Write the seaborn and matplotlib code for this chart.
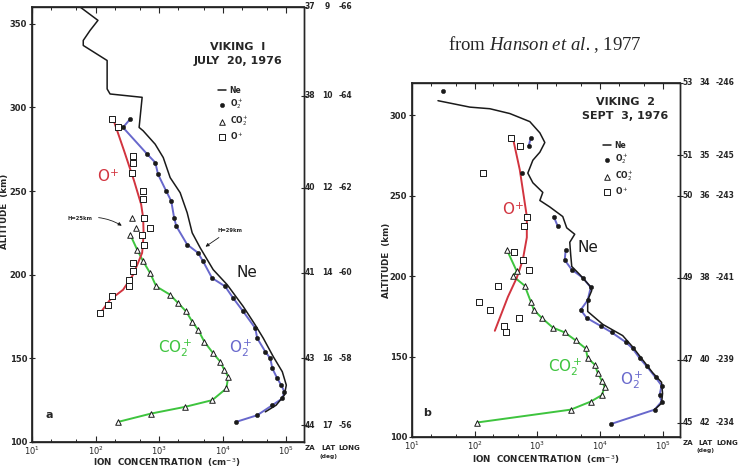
import matplotlib
matplotlib.use("Agg")
import matplotlib.pyplot as plt
import matplotlib.transforms as mtransforms
from matplotlib.ticker import LogLocator, NullFormatter
import pandas as pd
import seaborn as sns

# ---------------- Viking 1, July 20 1976 ----------------
ne1_alt = [360, 352, 346, 340, 337, 328, 311, 308, 306, 288, 286, 278, 270, 258, 249,
           237, 225, 216, 203, 194, 181, 170, 162, 151, 142, 134, 128, 122, 118]
ne1 = [57, 109, 82, 64, 64, 152, 152, 169, 540, 484, 560, 865, 1160, 1490, 2140,
       2760, 3310, 4430, 7080, 11750, 21000, 32400, 43500, 62400, 86500, 100000, 93300, 69200, 46800]

o2_1_alt = [293, 288, 272, 267, 260, 250, 244, 234, 229, 218, 213, 208, 198, 193, 186,
            178, 168, 162, 154, 150, 144, 138, 134, 130, 126, 122, 116, 112]
o2_1 = [350, 270, 650, 870, 960, 1290, 1550, 1720, 1860, 2760, 4100, 4900, 6800, 10900, 14600,
        21000, 32500, 34900, 46700, 56000, 60300, 72100, 83200, 93300, 86500, 60300, 34900, 16200]

co2_1_alt = [224, 215, 208, 201, 193, 188, 183, 178, 172, 167, 160, 153, 148, 143, 139,
             132, 125, 121, 117, 112]
co2_1 = [350, 450, 560, 720, 900, 1490, 1990, 2660, 3310, 4110, 5120, 7080, 9140, 10600, 12200,
         11400, 6840, 2560, 750, 226]
co2_1_extra_alt = [234, 228]
co2_1_extra = [376, 434]

op1_alt = [293, 288, 271, 267, 261, 250, 245, 234, 228, 224, 218, 207, 202, 197, 193, 187, 182, 177]
op1 = [182, 226, 390, 390, 376, 560, 560, 580, 720, 540, 580, 390, 390, 337, 337, 182, 157, 118]
op1_fit_alt = [293, 274, 256, 242, 234, 224, 213, 200, 191, 185, 177]
op1_fit = [189, 281, 404, 521, 560, 570, 540, 390, 271, 169, 118]

za1_alt = [360, 307, 252, 201, 150, 110]
za1 = ["37", "38", "40", "41", "43", "44"]
lat1 = ["9", "10", "12", "14", "16", "17"]
lon1 = ["-66", "-64", "-62", "-60", "-58", "-56"]

# ---------------- Viking 2, Sept 3 1976 ----------------
ne2_alt = [309, 305, 304, 301, 296, 289, 283, 277, 272, 264, 258, 252, 247, 243, 237, 230, 226,
           221, 213, 206, 201, 194, 191, 185, 178, 170, 163, 156, 148, 140, 134, 127, 121, 117]
ne2 = [26, 84, 175, 365, 760, 1100, 1320, 1100, 850, 706, 850, 1225, 1100, 1580, 2550, 2950, 3960,
       3300, 3420, 3550, 4750, 6870, 7400, 6380, 6380, 11100, 23100, 33300, 48000, 69300, 96400,
       100000, 96400, 74600]

o2_2_alt = [286, 281, 237, 231, 216, 210, 204, 199, 193, 185, 179, 174, 169, 165, 159, 155,
            149, 144, 137, 132, 126, 122, 117, 108]
o2_2 = [790, 730, 1830, 2120, 2840, 2740, 3550, 5310, 7130, 6380, 4930, 6150, 10300, 15400,
        25700, 33300, 43000, 55600, 77300, 96400, 89500, 96400, 74600, 14800]
o2_2_seg = [0, 0, 1, 1] + [2] * 20
o2_2_extra_alt = [315, 264]
o2_2_extra = [31, 566]

co2_2_alt = [216, 203, 200, 194, 184, 179, 174, 168, 165, 160, 155, 149, 145, 140, 135,
             131, 126, 122, 117, 109]
co2_2 = [330, 470, 410, 630, 790, 880, 1180, 1770, 2740, 4110, 5930, 6380, 8240, 9200, 10700,
         11900, 10700, 7130, 3420, 109]

op2_alt = [286, 281, 264, 237, 231, 215, 210, 204, 194, 184, 179, 174, 169, 165]
op2 = [378, 526, 135, 681, 610, 422, 587, 733, 235, 117, 175, 507, 292, 315]
op2_fit_alt = [286, 266, 237, 224, 210, 199, 187, 174, 166]
op2_fit = [407, 526, 681, 681, 587, 471, 339, 252, 210]

za2_alt = [320, 275, 250, 199, 148, 109]
za2 = ["53", "51", "50", "49", "47", "45"]
lat2 = ["34", "35", "36", "38", "40", "42"]
lon2 = ["-246", "-245", "-243", "-241", "-239", "-234"]

BLUE = "#6868cc"
RED = "#d2343f"
GREEN = "#3ec43e"

sns.set_theme(style="ticks")
plt.rcParams["font.family"] = ["DejaVu Sans"]
plt.rcParams["mathtext.fontset"] = "custom"
plt.rcParams["mathtext.rm"] = "DejaVu Sans"
plt.rcParams["mathtext.it"] = "Liberation Serif:italic"
plt.rcParams["mathtext.bf"] = "DejaVu Sans:bold"

fig = plt.figure(figsize=(7.39, 4.71), dpi=100)
ax1 = fig.add_axes([0.0433, 0.0616, 0.3681, 0.9236])
ax2 = fig.add_axes([0.5575, 0.0722, 0.3627, 0.7516])


def draw_profiles(ax, ne_x, ne_y, o2_x, o2_y, co2_x, co2_y, op_x, op_y, opf_x, opf_y, o2_units=None):
    ax.set_xscale("log")
    sns.lineplot(x=ne_x, y=ne_y, sort=False, estimator=None, color="k", lw=1.1,
                 label="Ne", ax=ax, zorder=3)
    if o2_units is None:
        sns.lineplot(x=o2_x, y=o2_y, sort=False, estimator=None, color=BLUE, lw=1.4,
                     ax=ax, zorder=2)
    else:
        df = pd.DataFrame({"n": o2_x, "alt": o2_y, "seg": o2_units})
        sns.lineplot(data=df, x="n", y="alt", units="seg", sort=False, estimator=None,
                     color=BLUE, lw=1.4, ax=ax, zorder=2, legend=False)
    sns.scatterplot(x=o2_x, y=o2_y, marker="o", s=10, color="k", edgecolor="k",
                    linewidth=0.3, label="O$_2^+$", ax=ax, zorder=4)
    sns.lineplot(x=co2_x, y=co2_y, sort=False, estimator=None, color=GREEN, lw=1.4,
                 ax=ax, zorder=2)
    sns.scatterplot(x=co2_x, y=co2_y, marker="^", s=16, color="k", facecolor="white",
                    edgecolor="k", linewidth=0.7, label="CO$_2^+$", ax=ax, zorder=4)
    sns.lineplot(x=opf_x, y=opf_y, sort=False, estimator=None, color=RED, lw=1.4,
                 ax=ax, zorder=2)
    sns.scatterplot(x=op_x, y=op_y, marker="s", s=15, color="k", facecolor="white",
                    edgecolor="k", linewidth=0.7, label="O$^+$", ax=ax, zorder=4)


def style_axes(ax, ytop, yticks, za_alt, za, lat, lon, cols, hdr_cols, xlab_xy, ylab_xy,
               hdr_y, leg_xy, title_xy, title_lines):
    ax.set_xlim(10, 1.9e5)
    ax.set_ylim(100, ytop)
    ax.set_yticks(yticks)
    ax.xaxis.set_major_locator(LogLocator(base=10, numticks=10))
    ax.xaxis.set_minor_locator(LogLocator(base=10, subs=(2, 5), numticks=10))
    ax.xaxis.set_minor_formatter(NullFormatter())
    ax.tick_params(axis="x", which="both", direction="in", top=True, labelsize=6, pad=2)
    ax.tick_params(axis="x", which="major", length=4, width=0.8)
    ax.tick_params(axis="x", which="minor", length=2.5, width=0.7)
    ax.tick_params(axis="y", direction="inout", length=5, width=0.8, labelsize=6, pad=1)
    for lab in ax.get_yticklabels():
        lab.set_fontweight("bold")
    for s in ax.spines.values():
        s.set_linewidth(1.0)
        s.set_color("k")
    ax.set_xlabel("ION  CONCENTRATION  (cm$^{-3}$)", fontsize=6.3, fontweight="bold",
                  va="center")
    ax.xaxis.set_label_coords(*xlab_xy)
    ax.set_ylabel("ALTITUDE  (km)", fontsize=6.3, fontweight="bold", va="center")
    ax.yaxis.set_label_coords(*ylab_xy)

    tw = ax.twinx()
    tw.set_ylim(ax.get_ylim())
    tw.set_yticks(za_alt)
    tw.set_yticklabels([])
    tw.tick_params(axis="y", direction="inout", length=5, width=0.8)
    tw.spines["right"].set_linewidth(1.0)

    trans = mtransforms.blended_transform_factory(ax.transAxes, ax.transData)
    for col, vals in zip(cols, (za, lat, lon)):
        for a, v in zip(za_alt, vals):
            ax.text(col, a, v, transform=trans, ha="center", va="center",
                    fontsize=5.5, fontweight="bold", clip_on=False)
    for col, v in zip(hdr_cols, ("ZA", "LAT", "LONG")):
        ax.text(col, hdr_y, v, transform=ax.transAxes, ha="center", va="center",
                fontsize=5, fontweight="bold")
    ax.text(hdr_cols[1], hdr_y - 0.02, "(deg)", transform=ax.transAxes, ha="center",
            va="center", fontsize=4.2, fontweight="bold")

    ax.legend(loc="upper left", bbox_to_anchor=leg_xy, frameon=False,
              prop={"size": 5.5, "weight": "bold"}, handlelength=1.0, handletextpad=0.5,
              labelspacing=0.3, borderaxespad=0, borderpad=0)
    ax.text(title_xy[0], title_xy[1], title_lines[0], transform=ax.transAxes, ha="center",
            va="center", fontsize=8, fontweight="bold")
    ax.text(title_xy[0], title_xy[2], title_lines[1], transform=ax.transAxes, ha="center",
            va="center", fontsize=8, fontweight="bold")


draw_profiles(ax1, ne1, ne1_alt, o2_1, o2_1_alt, co2_1, co2_1_alt, op1, op1_alt,
              op1_fit, op1_fit_alt)
sns.scatterplot(x=co2_1_extra, y=co2_1_extra_alt, marker="^", s=16, color="k",
                facecolor="white", edgecolor="k", linewidth=0.7, ax=ax1, zorder=4)
style_axes(ax1, 360, [100, 150, 200, 250, 300, 350], za1_alt, za1, lat1, lon1,
           (1.022, 1.085, 1.151), (1.022, 1.090, 1.168), (0.496, -0.048), (-0.1, 0.53),
           -0.014, (0.684, 0.818), (0.757, 0.908, 0.876), ["VIKING  I", "JULY  20, 1976"])

draw_profiles(ax2, ne2, ne2_alt, o2_2, o2_2_alt, co2_2, co2_2_alt, op2, op2_alt,
              op2_fit, op2_fit_alt, o2_units=o2_2_seg)
sns.scatterplot(x=o2_2_extra, y=o2_2_extra_alt, marker="o", s=10, color="k", edgecolor="k",
                linewidth=0.3, ax=ax2, zorder=4)
style_axes(ax2, 320, [100, 150, 200, 250, 300], za2_alt, za2, lat2, lon2,
           (1.03, 1.093, 1.168), (1.028, 1.095, 1.178), (0.5, -0.065), (-0.095, 0.5),
           -0.017, (0.713, 0.836), (0.795, 0.946, 0.908), ["VIKING  2", "SEPT  3, 1976"])

# coloured curve labels
ax1.text(157, 259, "O$^{+}$", color=RED, fontsize=11, ha="center", va="center")
ax1.text(1790, 156, "CO$_2^+$", color=GREEN, fontsize=11, ha="center", va="center")
ax1.text(18900, 156, "O$_2^+$", color=BLUE, fontsize=11, ha="center", va="center")
ax1.text(24300, 201, "Ne", color="k", fontsize=11, ha="center", va="center")
ax1.text(18.5, 116, "a", fontsize=8, fontweight="bold", ha="center", va="center")

ax2.text(407, 242, "O$^{+}$", color=RED, fontsize=11, ha="center", va="center")
ax2.text(2740, 143, "CO$_2^+$", color=GREEN, fontsize=11, ha="center", va="center")
ax2.text(32000, 135, "O$_2^+$", color=BLUE, fontsize=11, ha="center", va="center")
ax2.text(6380, 218, "Ne", color="k", fontsize=11, ha="center", va="center")
ax2.text(17.3, 115, "b", fontsize=8, fontweight="bold", ha="center", va="center")

# scale-height annotations
ax1.annotate("H=25km", xy=(281, 228.4), xytext=(57, 233.7), fontsize=3.8, fontweight="bold",
             ha="center", va="center",
             arrowprops=dict(arrowstyle="-|>", lw=0.6, color="k", mutation_scale=5,
                             connectionstyle="arc3,rad=-0.2"))
ax1.annotate("H=29km", xy=(4930, 215.8), xytext=(8180, 226.6), fontsize=3.8, fontweight="bold",
             ha="left", va="center",
             arrowprops=dict(arrowstyle="-|>", lw=0.6, color="k", mutation_scale=5))

fig.text(545 / 739, 1 - 45 / 471, r"from $\mathit{Hanson\ et\ al.}$, 1977", ha="center",
         va="center", fontsize=13.5, family="Liberation Serif")

fig.savefig("out.png", dpi=100)
